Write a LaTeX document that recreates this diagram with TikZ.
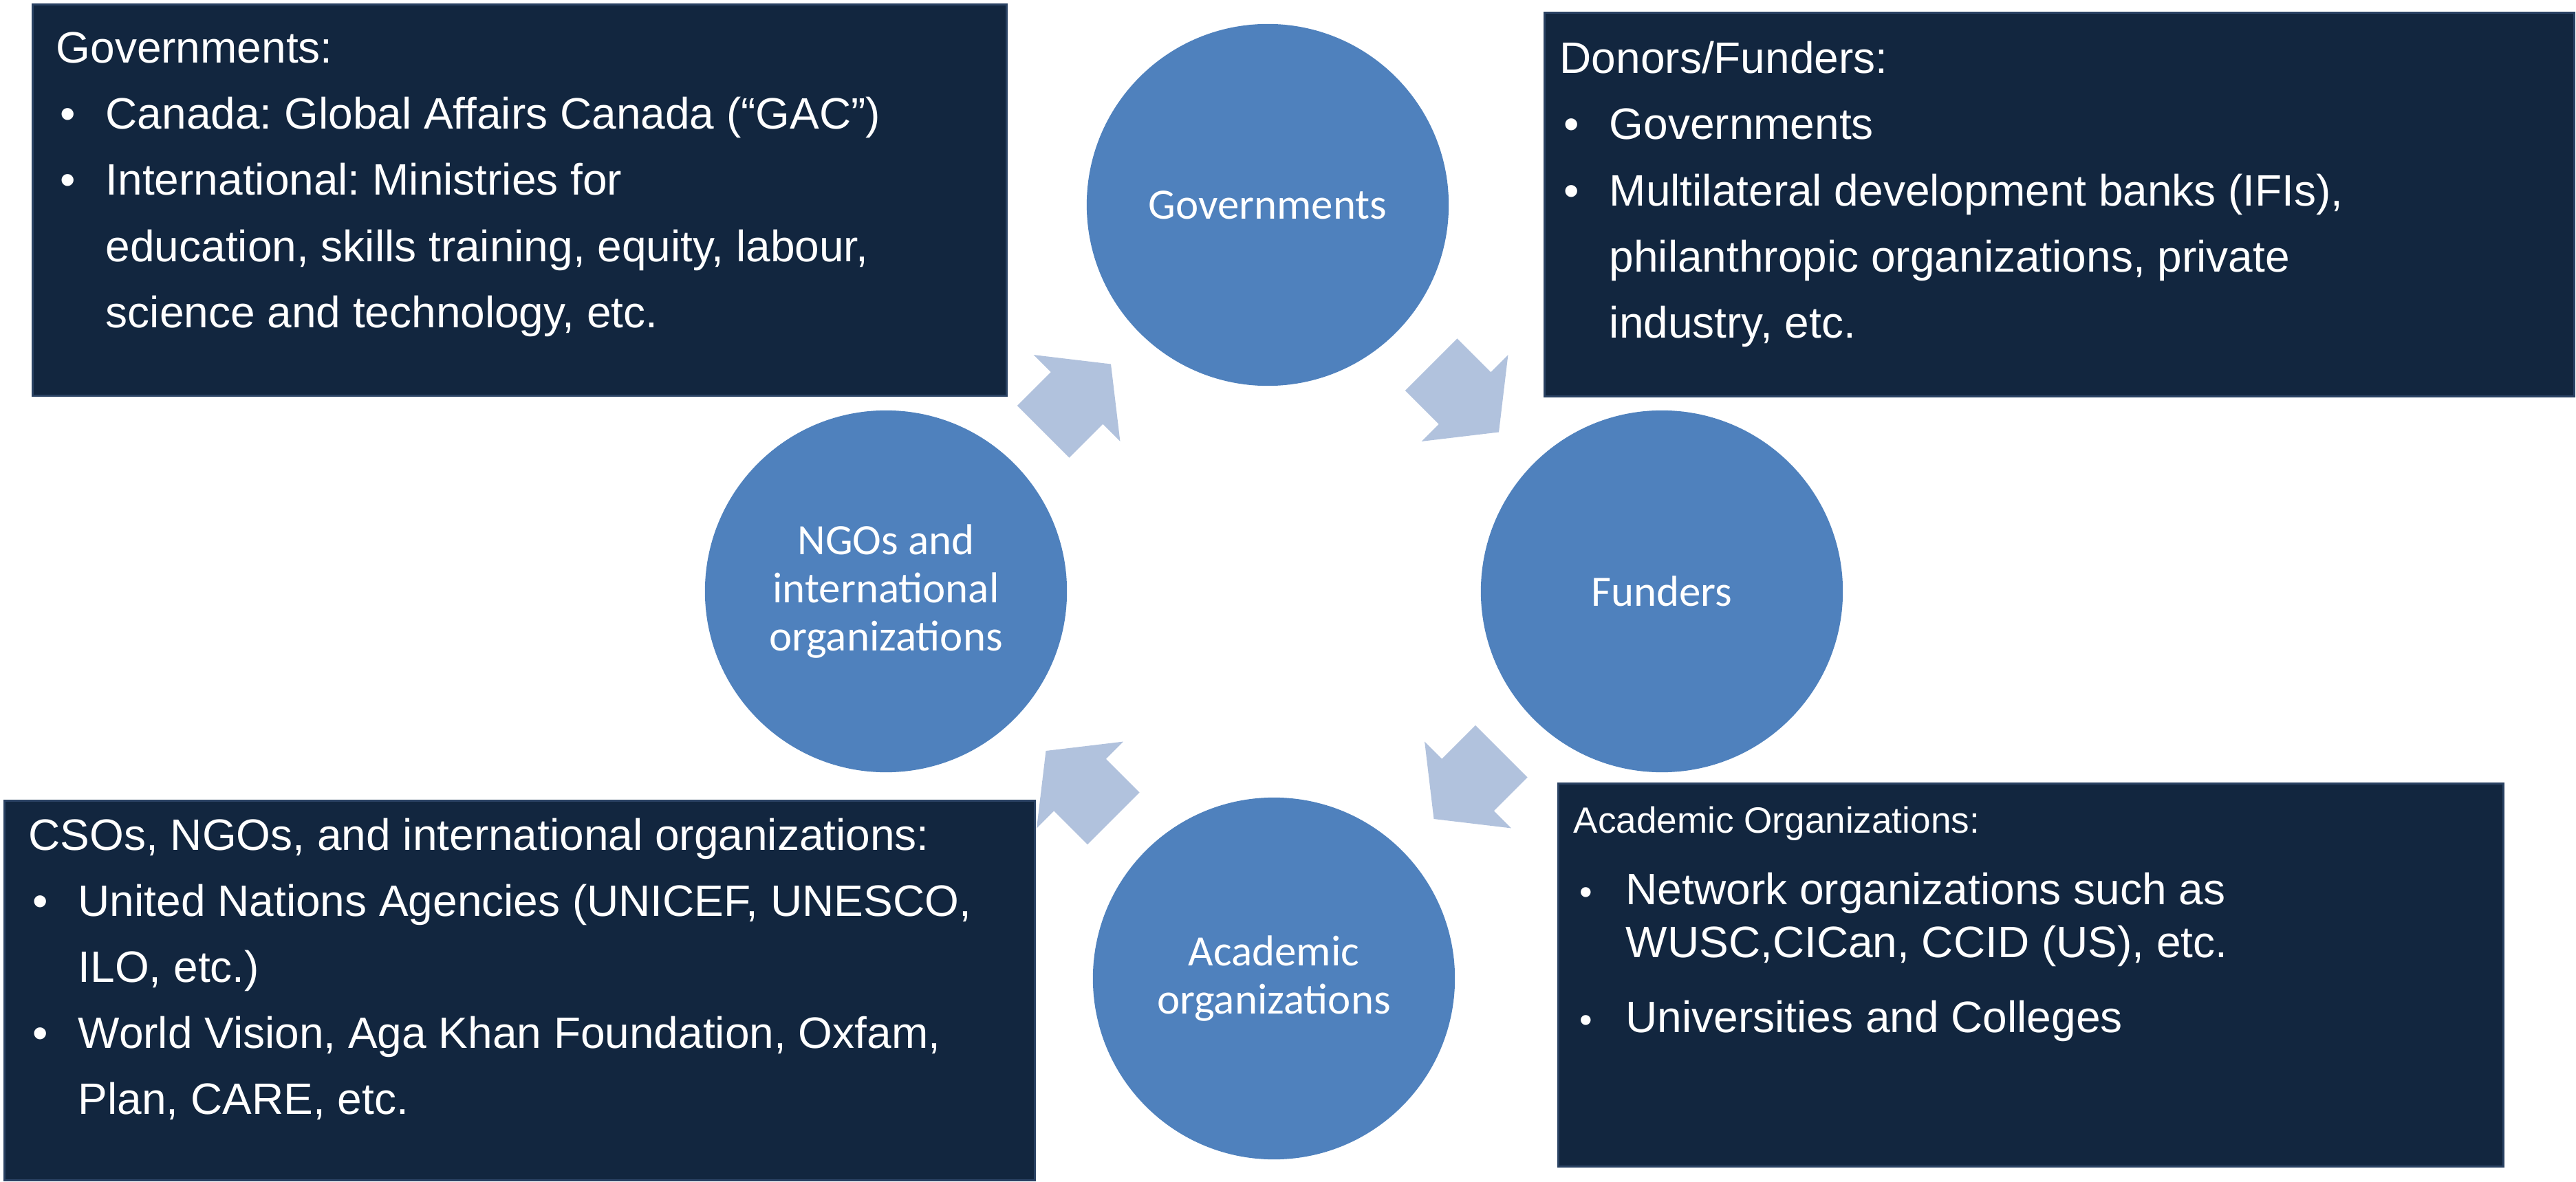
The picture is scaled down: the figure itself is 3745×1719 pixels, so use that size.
\documentclass[tikz,border=0pt]{standalone}
\usepackage{fontspec}
\setmainfont{Liberation Sans}
\newfontfamily\calibri{Carlito}
\usetikzlibrary{calc}
\frenchspacing

\definecolor{navy}{HTML}{12263F}
\definecolor{navyedge}{HTML}{2A4263}
\definecolor{ringblue}{HTML}{4F81BD}
\definecolor{cycleblue}{HTML}{B1C2DD}

\newcommand{\bul}{\makebox[20.5pt][l]{\hspace{1.6pt}\textbullet}}
\newcommand{\ind}{\hspace*{20.5pt}}
\newcommand{\bulsmall}{\makebox[21.6pt][l]{\hspace{2.6pt}{\fontsize{15.1}{18}\selectfont\textbullet}}}
\newcommand{\indsmall}{\hspace*{21.6pt}}
% block arrow between two stages, pointing at angle #3
\newcommand{\cyclearrow}[3]{\fill[cycleblue, shift={($(#1)!0.5!(#2)$)}, rotate=#3]
  (-69,-53.5) -- (0,-53.5) -- (0,-89) -- (70,0) -- (0,89) -- (0,53.5) -- (-69,53.5) -- cycle;}

\begin{document}
\begin{tikzpicture}[x=0.01cm, y=-0.01cm,
  infobox/.style={fill=navy, draw=navyedge, line width=0.8pt, anchor=north west, inner sep=0pt},
  infotext/.style={text=white, anchor=base west, inner sep=0pt, font=\fontsize{18.2}{27.3}\selectfont},
  stage/.style={circle, fill=ringblue, text=white, minimum size=5.26cm, inner sep=0pt, align=center,
    font=\calibri\fontsize{17.9}{19.9}\selectfont}]
\useasboundingbox (0,0) rectangle (3745,1719);

% boxes
\node[infobox, minimum width=14.15cm, minimum height=5.69cm] (govbox) at (46,5) {};
\node[infobox, minimum width=14.96cm, minimum height=5.58cm] (donbox) at (2244,17) {};
\node[infobox, minimum width=14.97cm, minimum height=5.52cm] (csobox) at (5,1163) {};
\node[infobox, minimum width=13.73cm, minimum height=5.57cm] (acabox) at (2264,1138) {};

\node[infotext] (govtext) at (81,92) {\begin{tabular}[t]{@{}l@{}}
Governments:\\
\bul Canada: Global Affairs Canada (“GAC”)\\
\bul International: Ministries for\\
\ind education, skills training, equity, labour,\\
\ind science and technology, etc.
\end{tabular}};
\node[infotext] (dontext) at (2267,107) {\begin{tabular}[t]{@{}l@{}}
Donors/Funders:\\
\bul Governments\\
\bul Multilateral development banks (IFIs),\\
\ind philanthropic organizations, private\\
\ind industry, etc.
\end{tabular}};
\node[infotext] (csotext) at (41,1236) {\begin{tabular}[t]{@{}l@{}}
CSOs, NGOs, and international organizations:\\
\bul United Nations Agencies (UNICEF, UNESCO,\\
\ind ILO, etc.)\\
\bul World Vision, Aga Khan Foundation, Oxfam,\\
\ind Plan, CARE, etc.
\end{tabular}};
\node[infotext, font=\fontsize{18.2}{21.9}\selectfont] (acatext) at (2287,1211) {\begin{tabular}[t]{@{}l@{}}
{\fontsize{15.1}{18}\selectfont Academic Organizations:}\\[7.7pt]
\bulsmall Network organizations such as\\
\indsmall WUSC,CICan, CCID (US), etc.\\[9.1pt]
\bulsmall Universities and Colleges
\end{tabular}};

% cycle
\node[stage] (gov) at (1843,298) {Governments};
\node[stage] (fund) at (2416,860) {Funders};
\node[stage] (acad) at (1852,1423) {Academic\\organizations};
\node[stage] (ngo) at (1288,860) {NGOs and\\international\\organizations};

\cyclearrow{gov}{fund}{-45}
\cyclearrow{fund}{acad}{-135}
\cyclearrow{acad}{ngo}{135}
\cyclearrow{ngo}{gov}{45}
\end{tikzpicture}
\end{document}
